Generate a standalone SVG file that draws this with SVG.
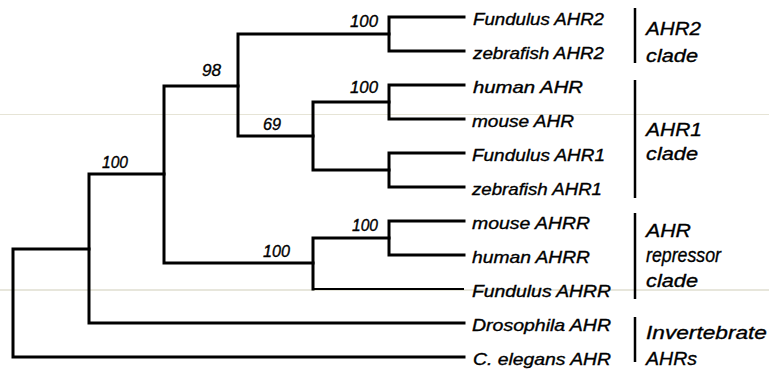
<svg xmlns="http://www.w3.org/2000/svg" width="769" height="369" viewBox="0 0 769 369">
<style>
.br{fill:none;stroke:#000;stroke-width:3;stroke-linecap:square}
.thin{fill:none;stroke:#000;stroke-width:2}
.bar{stroke:#000;stroke-width:2.5}
text{font-family:"Liberation Sans",Arial,Helvetica,sans-serif;font-style:italic;fill:#000;stroke:#000;stroke-width:0.35}
.leaf{font-size:16.5px}
.boot{font-size:16px}
.clade{font-size:19px}
.big{font-size:21px}
</style>
<rect width="769" height="369" fill="#fff"/>
<line x1="0" y1="114.5" x2="769" y2="114.5" stroke="#e6e4d6" stroke-width="1"/>
<line x1="0" y1="290" x2="769" y2="290" stroke="#cfcdb8" stroke-width="1"/>
<g id="connectors">
<path class="br" d="M13,249V357H464M13,249H89"/>
<path class="br" d="M89,174V323H464M89,174H164"/>
<path class="br" d="M164,86V263H313M164,86H238"/>
<path class="br" d="M238,34V136H313M238,34H389"/>
<path class="br" d="M389,17V51H464M389,17H464"/>
<path class="br" d="M313,102V170H389M313,102H389"/>
<path class="br" d="M389,85V119H464M389,85H464"/>
<path class="br" d="M389,153V187H464M389,153H464"/>
<path class="br" d="M313,238V289M313,238H389"/>
<path class="thin" d="M313,289H464"/>
<path class="br" d="M389,221V255H464M389,221H464"/>
</g>
<g id="bootstrap">
<text class="boot" x="350" y="27" textLength="28" lengthAdjust="spacingAndGlyphs">100</text>
<text class="boot" x="202" y="76" textLength="19" lengthAdjust="spacingAndGlyphs">98</text>
<text class="boot" x="350" y="93" textLength="28" lengthAdjust="spacingAndGlyphs">100</text>
<text class="boot" x="263" y="130" textLength="18" lengthAdjust="spacingAndGlyphs">69</text>
<text class="boot" x="102" y="168" textLength="26" lengthAdjust="spacingAndGlyphs">100</text>
<text class="boot" x="352" y="231" textLength="26" lengthAdjust="spacingAndGlyphs">100</text>
<text class="boot" x="263" y="257" textLength="27" lengthAdjust="spacingAndGlyphs">100</text>
</g>
<g id="leaf-fundulus-ahr2"><text class="leaf" x="473" y="25" textLength="131" lengthAdjust="spacingAndGlyphs">Fundulus AHR2</text></g>
<g id="leaf-zebrafish-ahr2"><text class="leaf" x="473" y="59" textLength="131" lengthAdjust="spacingAndGlyphs">zebrafish AHR2</text></g>
<g id="leaf-human-ahr"><text class="leaf" x="473" y="93" textLength="110" lengthAdjust="spacingAndGlyphs">human AHR</text></g>
<g id="leaf-mouse-ahr"><text class="leaf" x="472" y="127" textLength="102" lengthAdjust="spacingAndGlyphs">mouse AHR</text></g>
<g id="leaf-fundulus-ahr1"><text class="leaf" x="472" y="161" textLength="133" lengthAdjust="spacingAndGlyphs">Fundulus AHR1</text></g>
<g id="leaf-zebrafish-ahr1"><text class="leaf" x="472" y="195" textLength="130" lengthAdjust="spacingAndGlyphs">zebrafish AHR1</text></g>
<g id="leaf-mouse-ahrr"><text class="leaf" x="472" y="229" textLength="118" lengthAdjust="spacingAndGlyphs">mouse AHRR</text></g>
<g id="leaf-human-ahrr"><text class="leaf" x="472" y="263" textLength="118" lengthAdjust="spacingAndGlyphs">human AHRR</text></g>
<g id="leaf-fundulus-ahrr"><text class="leaf" x="472" y="297" textLength="139" lengthAdjust="spacingAndGlyphs">Fundulus AHRR</text></g>
<g id="leaf-drosophila-ahr"><text class="leaf" x="472" y="331" textLength="139" lengthAdjust="spacingAndGlyphs">Drosophila AHR</text></g>
<g id="leaf-celegans-ahr"><text class="leaf" x="473" y="365" textLength="138" lengthAdjust="spacingAndGlyphs">C. elegans AHR</text></g>
<g id="clade-ahr2">
<line class="bar" x1="635" y1="8" x2="635" y2="63"/>
<text class="clade" x="646" y="35" textLength="55" lengthAdjust="spacingAndGlyphs">AHR2</text>
<text class="clade" x="646" y="62" textLength="52" lengthAdjust="spacingAndGlyphs">clade</text>
</g>
<g id="clade-ahr1">
<line class="bar" x1="635" y1="80" x2="635" y2="198"/>
<text class="clade" x="646" y="136" textLength="56" lengthAdjust="spacingAndGlyphs">AHR1</text>
<text class="clade" x="646" y="160" textLength="52" lengthAdjust="spacingAndGlyphs">clade</text>
</g>
<g id="clade-ahrr">
<line class="bar" x1="635" y1="213" x2="635" y2="299"/>
<text class="clade" x="646" y="237" textLength="45" lengthAdjust="spacingAndGlyphs">AHR</text>
<text class="clade big" x="646" y="262" textLength="75" lengthAdjust="spacingAndGlyphs">repressor</text>
<text class="clade" x="646" y="287" textLength="52" lengthAdjust="spacingAndGlyphs">clade</text>
</g>
<g id="clade-invertebrate">
<line class="bar" x1="635" y1="317" x2="635" y2="362"/>
<text class="clade" x="646" y="339" textLength="121" lengthAdjust="spacingAndGlyphs">Invertebrate</text>
<text class="clade" x="646" y="365" textLength="51" lengthAdjust="spacingAndGlyphs">AHRs</text>
</g>
</svg>
